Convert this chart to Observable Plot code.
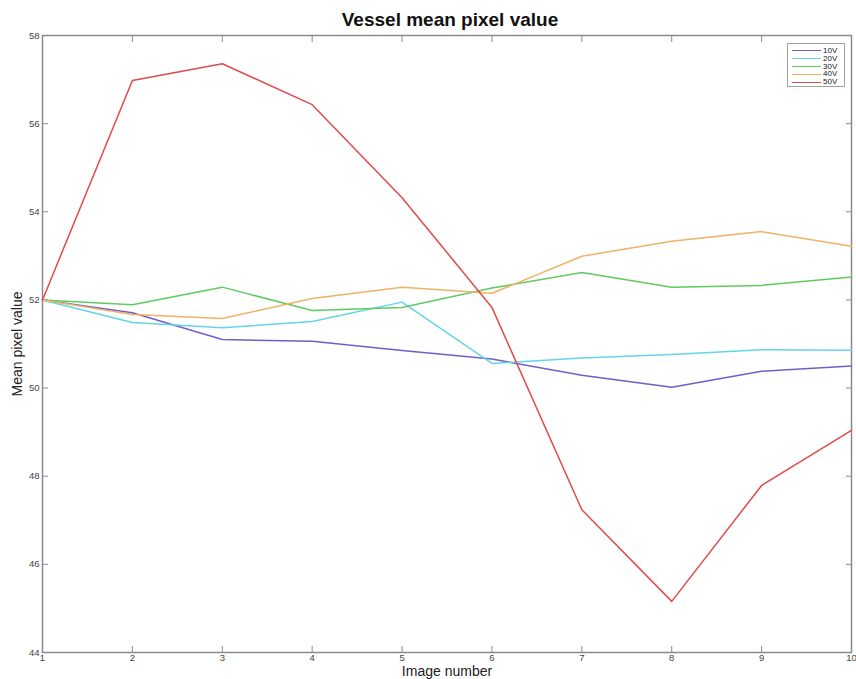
<!DOCTYPE html>
<html>
<head>
<meta charset="utf-8">
<script src="https://cdn.jsdelivr.net/npm/d3@7"></script>
<script src="https://cdn.jsdelivr.net/npm/@observablehq/plot@0.6"></script>
<style>
  html, body { margin: 0; padding: 0; background: #fff; }
  #wrap { position: relative; width: 856px; height: 679px; font-family: "Liberation Sans", Arial, sans-serif; }
  #legend {
    position: absolute; left: 787px; top: 43px; width: 58px; height: 44px;
    border: 1px solid #a0a0a0; background: #fff; box-sizing: border-box;
    padding: 3px 0 0 4px; font-size: 8px; line-height: 7.8px; color: #222;
  }
  #legend .row { display: flex; align-items: center; height: 7.8px; }
  #legend .sw { display: inline-block; width: 29px; height: 0; border-top: 1.2px solid; margin-right: 2px; }
</style>
</head>
<body>
<div id="wrap">
  <div id="chart"></div>
  <div id="legend"></div>
</div>
<script>
// Image index along the x axis
const imageNumbers = [1, 2, 3, 4, 5, 6, 7, 8, 9, 10];

// Mean pixel value of the vessel for each voltage setting
const series = ["10V", "20V", "30V", "40V", "50V"];
const v10 = [52.00, 51.71, 51.10, 51.06, 50.85, 50.66, 50.29, 50.02, 50.38, 50.50];
const v20 = [52.00, 51.49, 51.37, 51.51, 51.95, 50.56, 50.68, 50.76, 50.87, 50.86];
const v30 = [52.00, 51.89, 52.29, 51.76, 51.83, 52.27, 52.62, 52.29, 52.33, 52.52];
const v40 = [52.00, 51.67, 51.58, 52.03, 52.29, 52.15, 52.99, 53.33, 53.55, 53.22];
const v50 = [52.00, 56.98, 57.36, 56.43, 54.32, 51.83, 47.24, 45.16, 47.79, 49.04];
const colors = ["#6f5fc9", "#62d6e6", "#5fcb5f", "#efb266", "#e04a4a"];

const yTicks = [44, 46, 48, 50, 52, 54, 56, 58];

const valuesBySeries = [v10, v20, v30, v40, v50];
const rows = series.flatMap((s, i) =>
  imageNumbers.map((n, j) => ({series: s, image: n, value: valuesBySeries[i][j]}))
);

const axisColor = "#8a8a8a";
const font = "Liberation Sans, Arial, sans-serif";

const chart = Plot.plot({
  width: 856,
  height: 679,
  marginLeft: 42,
  marginRight: 5,
  marginTop: 35,
  marginBottom: 27,
  style: {fontFamily: font, fontSize: "10px", color: "#333", background: "#fff"},
  x: {domain: [1, 10]},
  y: {domain: [44, 58]},
  color: {domain: series, range: colors},
  marks: [
    Plot.frame({stroke: axisColor, strokeWidth: 1.5}),
    // bottom and left axes: inward ticks with labels outside
    Plot.axisX({anchor: "bottom", ticks: imageNumbers, tickSize: -6, tickPadding: 8, stroke: axisColor, fill: "#444", label: null, fontSize: 9.5}),
    Plot.axisY({anchor: "left", ticks: yTicks, tickSize: -6, tickPadding: 9, stroke: axisColor, fill: "#444", label: null, fontSize: 9.5}),
    // mirrored ticks on top and right
    Plot.axisX({anchor: "top", ticks: imageNumbers, tickSize: -6, tickFormat: () => "", stroke: axisColor, label: null}),
    Plot.axisY({anchor: "right", ticks: yTicks, tickSize: -6, tickFormat: () => "", stroke: axisColor, label: null}),
    Plot.line(rows, {x: "image", y: "value", z: "series", stroke: "series", strokeWidth: 1.5}),
    Plot.text(["Vessel mean pixel value"], {frameAnchor: "top", lineAnchor: "middle", dy: -16, dx: 3, fontSize: 19, fontWeight: "bold", fill: "#111"}),
    Plot.text(["Image number"], {frameAnchor: "bottom", lineAnchor: "middle", dy: 19, fontSize: 14, fill: "#222"}),
    Plot.text(["Mean pixel value"], {frameAnchor: "left", textAnchor: "middle", lineAnchor: "middle", dx: -25, rotate: -90, fontSize: 14, fill: "#222"})
  ]
});
document.getElementById("chart").append(chart);

// Legend box in the upper-right corner of the plot
const legend = document.getElementById("legend");
series.forEach((s, i) => {
  const row = document.createElement("div");
  row.className = "row";
  const sw = document.createElement("span");
  sw.className = "sw";
  sw.style.borderTopColor = colors[i];
  const label = document.createElement("span");
  label.textContent = s;
  row.append(sw, label);
  legend.append(row);
});
</script>
</body>
</html>
